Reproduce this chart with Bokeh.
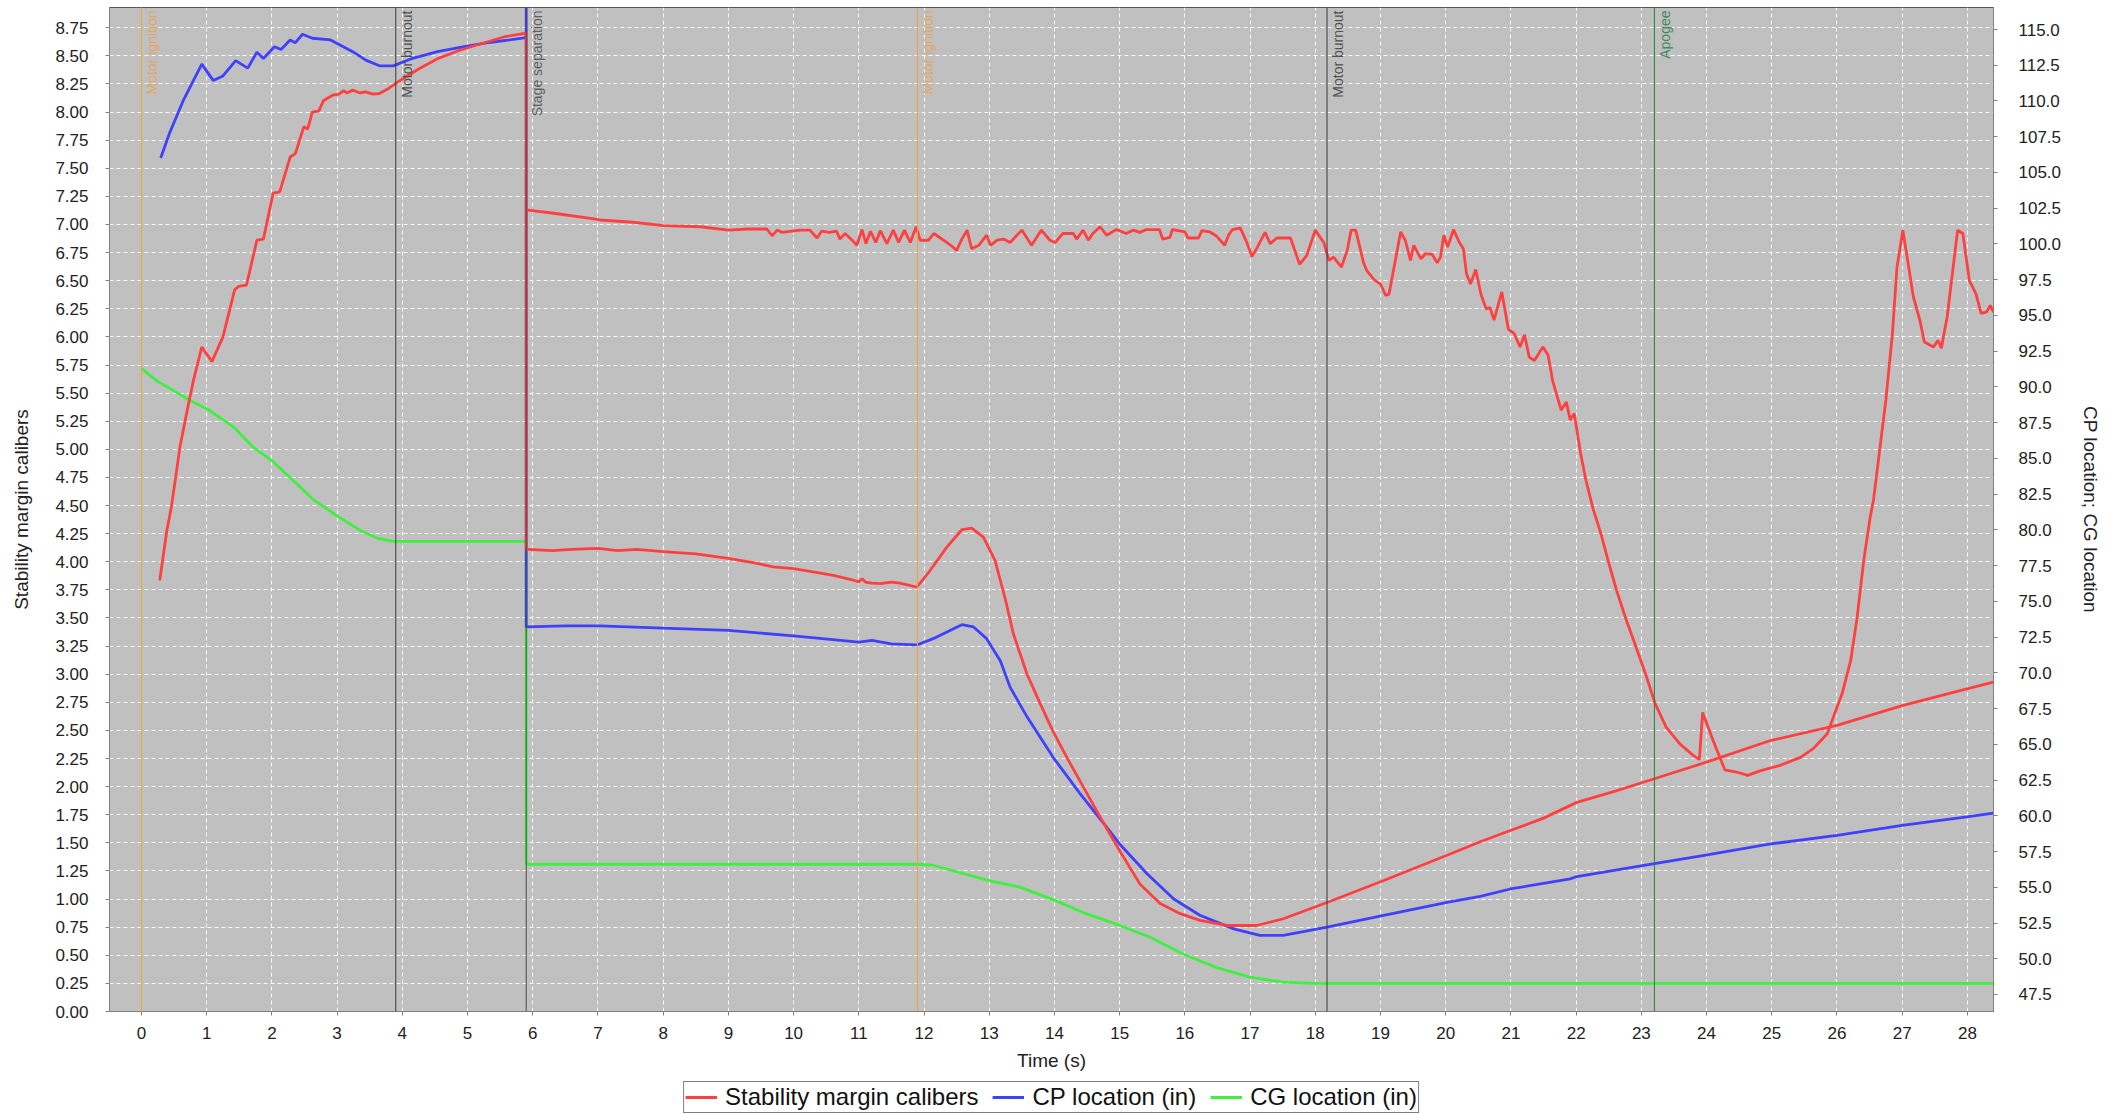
import numpy as np
from bokeh.plotting import figure
from bokeh.layouts import column
from bokeh.models import (Range1d, LinearAxis, SingleIntervalTicker, NumeralTickFormatter,
                          Span, Label, Legend, LegendItem)
from bokeh.embed import file_html
from bokeh.resources import INLINE

FONT = "Liberation Sans"

# ---------------- data ----------------
# Stability margin (calibers), main branch
stab_t = [0.28, 0.39, 0.46, 0.59, 0.72, 0.80, 0.925, 1.08, 1.25, 1.43, 1.49, 1.61, 1.77, 1.87, 2.02,
          2.12, 2.28, 2.36, 2.49, 2.55, 2.62, 2.72, 2.79, 2.93, 3.03, 3.10, 3.15, 3.24, 3.35, 3.44,
          3.55, 3.65, 3.79, 3.99, 4.27, 4.54, 4.88, 5.22, 5.57, 5.875, 5.90, 5.90, 5.93, 6.30, 6.60,
          7.00, 7.30, 7.60, 8.00, 8.50, 9.00, 9.40, 9.69, 10.00, 10.30, 10.61, 10.90, 11.00, 11.05,
          11.10, 11.20, 11.33, 11.50, 11.63, 11.89, 12.09, 12.35, 12.58, 12.73, 12.91, 13.09, 13.25,
          13.37, 13.58, 13.78, 13.98, 14.19, 14.44, 14.70, 15.00, 15.31, 15.62, 15.93, 16.23, 16.64,
          17.10, 17.51, 18.18, 19.05, 20.02, 20.53, 20.99, 21.50, 22.01, 22.60, 23.20, 24.01, 24.98,
          26.00, 27.00, 27.99, 28.40]
stab_v = [3.835, 4.28, 4.49, 5.02, 5.40, 5.62, 5.91, 5.78, 6.00, 6.42, 6.45, 6.46, 6.86, 6.87, 7.28,
          7.29, 7.60, 7.63, 7.87, 7.85, 8.00, 8.01, 8.10, 8.15, 8.16, 8.19, 8.17, 8.195, 8.17, 8.18,
          8.16, 8.165, 8.21, 8.29, 8.39, 8.475, 8.55, 8.61, 8.67, 8.70, 8.70, 4.11, 4.11, 4.10, 4.11,
          4.12, 4.10, 4.11, 4.09, 4.07, 4.03, 3.99, 3.955, 3.94, 3.91, 3.88, 3.84, 3.82, 3.85,
          3.82, 3.81, 3.805, 3.82, 3.81, 3.775, 3.92, 4.13, 4.285, 4.30, 4.22, 4.01, 3.66,
          3.36, 3.00, 2.74, 2.49, 2.26, 2.00, 1.73, 1.43, 1.135, 0.96, 0.87, 0.81, 0.765,
          0.765, 0.825, 0.97, 1.165, 1.39, 1.51, 1.61, 1.72, 1.86, 1.96, 2.07, 2.22, 2.41,
          2.545, 2.72, 2.87, 2.93]

# Stability margin (calibers), second branch after stage separation
stab2_t = [5.90, 6.32, 6.94, 7.03, 7.54, 8.00, 8.57, 9.00, 9.30, 9.59, 9.67, 9.75, 9.82, 10.10, 10.25,
           10.36, 10.43, 10.55, 10.66, 10.71, 10.79, 10.89, 10.97, 11.05, 11.11, 11.18, 11.26, 11.33,
           11.43, 11.53, 11.61, 11.70, 11.79, 11.88, 11.94, 12.07, 12.15, 12.30, 12.41, 12.50, 12.58,
           12.66, 12.73, 12.84, 12.96, 13.02, 13.12, 13.22, 13.32, 13.50, 13.65, 13.80, 13.93, 14.01,
           14.13, 14.29, 14.34, 14.44, 14.52, 14.59, 14.70, 14.80, 14.95, 15.10, 15.21, 15.31, 15.41,
           15.61, 15.66, 15.77, 15.81, 16.00, 16.05, 16.21, 16.26, 16.38, 16.49, 16.61, 16.67, 16.73,
           16.85, 16.95, 17.03, 17.10, 17.23, 17.31, 17.41, 17.49, 17.62, 17.76, 17.87, 18.00, 18.13,
           18.21, 18.28, 18.40, 18.49, 18.55, 18.62, 18.74, 18.79, 18.90, 19.00, 19.08, 19.13, 19.31,
           19.38, 19.46, 19.51, 19.62, 19.69, 19.79, 19.87, 19.92, 19.97, 20.03, 20.12, 20.21, 20.27,
           20.32, 20.38, 20.46, 20.54, 20.62, 20.68, 20.74, 20.86, 20.96, 21.05, 21.14, 21.21, 21.28,
           21.36, 21.49, 21.57, 21.64, 21.77, 21.85, 21.91, 21.97, 22.07, 22.15, 22.26, 22.38, 22.49,
           22.62, 22.77, 22.92, 23.08, 23.21, 23.38, 23.59, 23.79, 23.89, 23.94, 24.10, 24.28, 24.46,
           24.63, 24.82, 25.13, 25.44, 25.64, 25.85, 26.08, 26.21, 26.31, 26.41, 26.51, 26.56, 26.75,
           26.85, 26.92, 27.01, 27.10, 27.17, 27.27, 27.34, 27.48, 27.55, 27.60, 27.69, 27.85, 27.93,
           28.03, 28.13, 28.21, 28.29, 28.35, 28.40]
stab2_v = [7.13, 7.10, 7.05, 7.04, 7.02, 6.99, 6.98, 6.95, 6.96, 6.96, 6.90, 6.95, 6.93, 6.95, 6.95,
           6.88, 6.94, 6.93, 6.94, 6.87, 6.92, 6.865, 6.815, 6.955, 6.83, 6.94, 6.84, 6.945,
           6.83, 6.95, 6.84, 6.95, 6.84, 6.98, 6.86, 6.86, 6.92, 6.86, 6.815, 6.77, 6.87,
           6.95, 6.785, 6.815, 6.905, 6.815, 6.86, 6.87, 6.84, 6.95, 6.815, 6.95, 6.86, 6.84,
           6.92, 6.92, 6.87, 6.95, 6.86, 6.92, 6.98, 6.905, 6.955, 6.92, 6.95, 6.93, 6.955,
           6.955, 6.87, 6.885, 6.955, 6.935, 6.88, 6.88, 6.945, 6.935, 6.895, 6.815, 6.905, 6.955,
           6.97, 6.84, 6.716, 6.785, 6.93, 6.83, 6.88, 6.88, 6.88, 6.645, 6.725, 6.95, 6.84,
           6.68, 6.71, 6.62, 6.77, 6.95, 6.95, 6.66, 6.59, 6.51, 6.47, 6.37, 6.38, 6.935,
           6.86, 6.68, 6.815, 6.695, 6.74, 6.735, 6.66, 6.71, 6.905, 6.80, 6.955, 6.84, 6.785,
           6.56, 6.47, 6.60, 6.38, 6.25, 6.26, 6.15, 6.40, 6.07, 6.03, 5.91, 6.02, 5.82,
           5.79, 5.91, 5.84, 5.61, 5.35, 5.42, 5.26, 5.32, 4.96, 4.725, 4.47, 4.25, 4.01,
           3.745, 3.48, 3.24, 2.975, 2.74, 2.53, 2.38, 2.28, 2.24, 2.66, 2.41, 2.15, 2.13,
           2.10, 2.14, 2.19, 2.26, 2.34, 2.47, 2.83, 3.12, 3.51, 4.01, 4.40, 4.55, 5.44,
           6.03, 6.62, 6.95, 6.62, 6.36, 6.15, 5.955, 5.91, 5.97, 5.90, 6.18, 6.95, 6.92,
           6.50, 6.385, 6.21, 6.22, 6.28, 6.22]

# CP location (in)
cp_t = [0.295, 0.43, 0.64, 0.925, 1.10, 1.25, 1.445, 1.63, 1.77, 1.87, 2.04, 2.14, 2.28, 2.36, 2.47,
        2.62, 2.90, 3.24, 3.44, 3.65, 3.86, 4.13, 4.54, 4.95, 5.36, 5.84, 5.90, 5.90, 5.90, 6.50,
        7.03, 8.00, 9.00, 10.00, 11.00, 11.20, 11.50, 11.89, 12.14, 12.58, 12.76, 12.96, 13.17,
        13.32, 13.58, 13.98, 14.39, 14.80, 15.00, 15.42, 15.83, 16.23, 16.75, 17.15, 17.51, 18.18,
        19.05, 20.02, 20.53, 20.99, 21.91, 22.01, 23.20, 24.01, 24.98, 26.00, 27.00, 27.99, 28.40]
cp_v = [106.01, 107.74, 110.02, 112.58, 111.44, 111.75, 112.82, 112.30, 113.41, 112.97, 113.80,
        113.60, 114.27, 114.08, 114.67, 114.39, 114.27, 113.45, 112.86, 112.46, 112.46, 112.94,
        113.45, 113.80, 114.11, 114.39, 114.45, 125.0, 73.21, 73.29, 73.29, 73.13, 72.97, 72.58,
        72.15, 72.27, 72.03, 71.95, 72.39, 73.37, 73.21, 72.39, 70.85, 69.00, 66.92, 64.09, 61.57,
        59.21, 58.03, 55.95, 54.18, 53.04, 52.09, 51.63, 51.63, 52.21, 53.03, 53.94, 54.36, 54.88,
        55.59, 55.75, 56.65, 57.27, 58.03, 58.63, 59.33, 59.92, 60.19]

# CG location (in)
cg_t = [0.0, 0.23, 0.79, 1.00, 1.41, 1.71, 2.02, 2.33, 2.64, 3.02, 3.35, 3.61, 3.86, 5.90, 5.90,
        11.90, 12.14, 13.00, 13.47, 14.00, 14.44, 15.00, 15.47, 15.98, 16.49, 17.00, 17.51, 18.00,
        28.40]
cg_v = [91.30, 90.44, 88.94, 88.47, 87.21, 85.80, 84.77, 83.44, 82.10, 80.92, 79.98, 79.43, 79.19,
        79.19, 56.61, 56.61, 56.54, 55.47, 55.01, 54.10, 53.23, 52.33, 51.50, 50.32, 49.38, 48.71,
        48.36, 48.28, 48.28]

# Flight events
event_times = [0.0, 3.90, 5.90, 11.90, 18.18, 23.20]
event_names = ["Motor ignition", "Motor burnout", "Stage separation",
               "Motor ignition", "Motor burnout", "Apogee"]
event_line_colors = ["#F2A03A", "#3A3A3A", "#4A4A4A", "#F2A03A", "#3A3A3A", "#2E7D32"]
event_text_colors = ["#E0A868", "#505050", "#606060", "#E0A868", "#505050", "#3F8A5C"]

series_names = ["Stability margin calibers", "CP location (in)", "CG location (in)"]
series_colors = ["#FF4040", "#4040FF", "#40F040"]
series_t = [stab_t, cp_t, cg_t]
series_v = [stab_v, cp_v, cg_v]

# ---------------- main figure ----------------
p = figure(frame_width=1884, frame_height=1004, output_backend="svg", toolbar_location=None,
           x_range=Range1d(-0.49, 28.40), y_range=Range1d(0.0, 8.93),
           min_border_left=109, min_border_right=118, min_border_top=7, min_border_bottom=64)
p.extra_y_ranges = {"right": Range1d(46.31, 116.54)}

p.background_fill_color = "#C0C0C0"
p.border_fill_color = "white"
p.outline_line_color = "#555555"
p.outline_line_width = 1

p.xaxis.ticker = SingleIntervalTicker(interval=1, num_minor_ticks=0)
p.yaxis.ticker = SingleIntervalTicker(interval=0.25, num_minor_ticks=0)
p.yaxis.formatter = NumeralTickFormatter(format="0.00")
p.xaxis.axis_label = "Time (s)"
p.yaxis.axis_label = "Stability margin calibers"

raxis = LinearAxis(y_range_name="right", axis_label="CP location; CG location",
                   ticker=SingleIntervalTicker(interval=2.5, num_minor_ticks=0),
                   formatter=NumeralTickFormatter(format="0.0"))
p.add_layout(raxis, "right")

for ax in [p.xaxis[0], p.yaxis[0], raxis]:
    ax.major_label_text_font = FONT
    ax.major_label_text_font_size = "17px"
    ax.major_label_text_color = "#222222"
    ax.axis_label_text_font = FONT
    ax.axis_label_text_font_style = "normal"
    ax.axis_label_text_font_size = "19px"
    ax.axis_label_text_color = "#222222"
    ax.axis_line_color = "#808080"
    ax.major_tick_line_color = "#808080"
    ax.major_tick_in = 0
    ax.major_tick_out = 4
    ax.minor_tick_line_color = None

p.xaxis.major_label_standoff = 11
p.xaxis.axis_label_standoff = 8
p.yaxis.major_label_standoff = 17
p.yaxis.axis_label_standoff = 20
raxis.major_label_standoff = 21
raxis.axis_label_standoff = 16

p.xgrid.ticker = SingleIntervalTicker(interval=1, num_minor_ticks=0)
p.ygrid.ticker = SingleIntervalTicker(interval=0.25, num_minor_ticks=0)
p.grid.grid_line_color = "white"
p.grid.grid_line_alpha = 0.9
p.grid.grid_line_dash = "4 3"
p.grid.grid_line_width = 1

for t, name, lc, tc in zip(event_times, event_names, event_line_colors, event_text_colors):
    p.add_layout(Span(location=t, dimension="height", line_color=lc, line_width=1))
    p.add_layout(Label(x=t, y=p.y_range.end, text=name, angle=np.pi / 2,
                       text_align="right", text_baseline="top", x_offset=3, y_offset=-3,
                       text_font=FONT, text_font_size="14px", text_color=tc))

# series (drawn green, blue, red so that red is on top)
p.line(cg_t, cg_v, y_range_name="right", line_color=series_colors[2], line_width=2.8)
p.line(cp_t, cp_v, y_range_name="right", line_color=series_colors[1], line_width=2.8)
p.line(stab2_t, stab2_v, line_color=series_colors[0], line_width=2.8)
p.line(stab_t, stab_v, line_color=series_colors[0], line_width=2.8)

# ---------------- legend strip below the chart ----------------
lg = figure(width=2111, height=39, output_backend="svg", toolbar_location=None,
            min_border_left=0, min_border_right=0, min_border_top=0, min_border_bottom=0,
            x_axis_type=None, y_axis_type=None)
lg.grid.visible = False
lg.outline_line_color = None
lg.background_fill_color = "white"
lg.border_fill_color = "white"
items = []
for name, col, ts, vs in zip(series_names, series_colors, series_t, series_v):
    # single-point proxy line: draws nothing itself, only feeds the legend swatch
    r = lg.line(ts[-1:], vs[-1:], line_color=col, line_width=2.8)
    items.append(LegendItem(label=name, renderers=[r]))
legend = Legend(items=items, orientation="horizontal", location="bottom_center")
legend.label_text_font = FONT
legend.label_text_font_size = "24px"
legend.label_text_color = "#111111"
legend.border_line_color = "black"
legend.border_line_width = 1
legend.background_fill_color = "white"
legend.glyph_width = 32
legend.glyph_height = 20
legend.label_height = 20
legend.label_standoff = 8
legend.spacing = 14
legend.padding = 1
legend.margin = 1
lg.add_layout(legend)

layout = column(p, lg, spacing=0)
open("out.html", "w").write(file_html(layout, INLINE))
